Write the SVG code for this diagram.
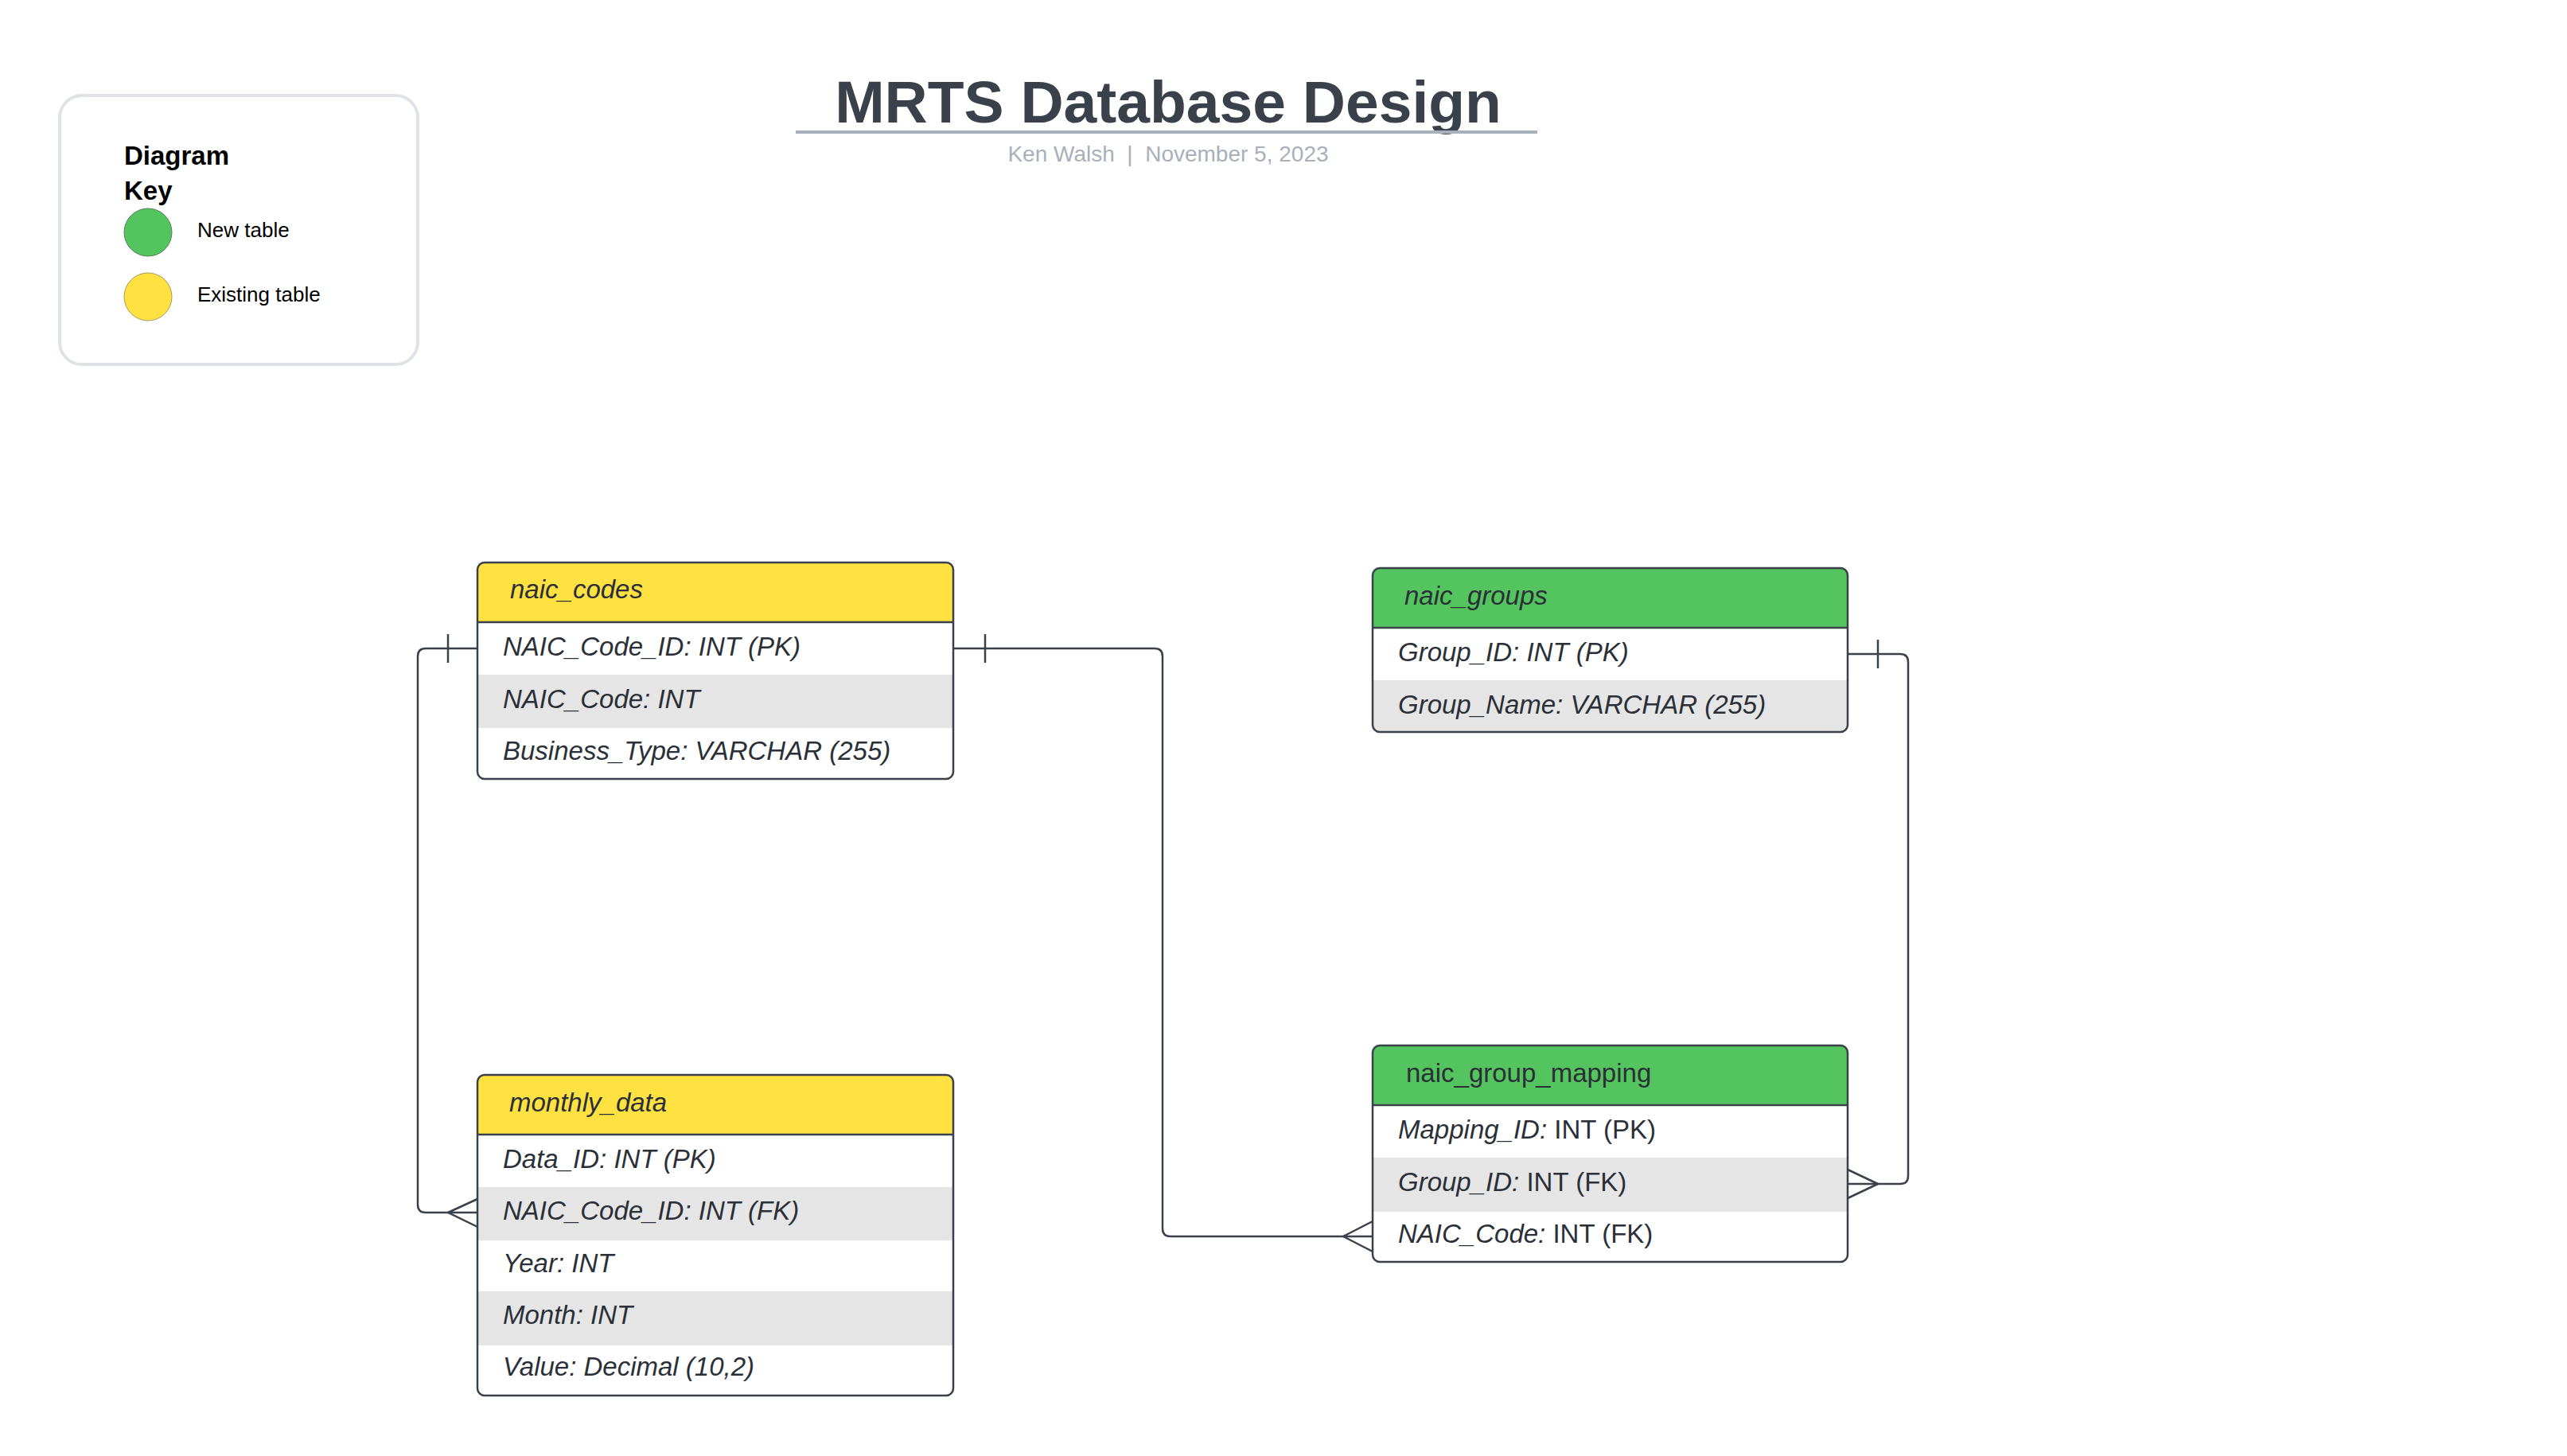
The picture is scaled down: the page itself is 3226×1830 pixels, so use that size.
<svg xmlns="http://www.w3.org/2000/svg" width="3226" height="1830" viewBox="0 0 3226 1830">
<style>
.t{font-family:"Liberation Sans",Arial,sans-serif;fill:#2b3038}
.row{font-size:33px;font-style:italic}
.hd{font-size:33px;font-style:italic}
.up{font-style:normal}
.box{fill:none;stroke:#3a414a;stroke-width:2.5}
.sep{stroke:#3a414a;stroke-width:2.5}
.gray{fill:#e5e5e5}
.yel{fill:#ffe142}
.grn{fill:#54c45e}
.conn path{fill:none;stroke:#3a414a;stroke-width:2.5}
</style>
<defs>
<clipPath id="c1"><rect x="600" y="707" width="598" height="272" rx="9"/></clipPath>
<clipPath id="c2"><rect x="1725" y="714" width="597" height="206" rx="9"/></clipPath>
<clipPath id="c3"><rect x="600" y="1351" width="598" height="403" rx="9"/></clipPath>
<clipPath id="c4"><rect x="1725" y="1314" width="597" height="272" rx="9"/></clipPath>
</defs>
<rect width="3226" height="1830" fill="#ffffff"/>

<g id="legend">
<rect x="75" y="120" width="450" height="338" rx="28" fill="#ffffff" stroke="#dfe3e8" stroke-width="4"/>
<text x="156" y="207" font-family="Liberation Sans,Arial,sans-serif" font-size="33" font-weight="bold" fill="#000">Diagram</text>
<text x="156" y="251" font-family="Liberation Sans,Arial,sans-serif" font-size="33" font-weight="bold" fill="#000">Key</text>
<circle cx="186" cy="292" r="30" fill="#54c45e" stroke="#5a7a5c" stroke-width="1"/>
<text x="248" y="298" font-family="Liberation Sans,Arial,sans-serif" font-size="26" fill="#000">New table</text>
<circle cx="186" cy="373" r="30" fill="#ffe142" stroke="#a89a5c" stroke-width="1"/>
<text x="248" y="379" font-family="Liberation Sans,Arial,sans-serif" font-size="26" fill="#000">Existing table</text>
</g>

<g id="title">
<text x="1468" y="154" text-anchor="middle" font-family="Liberation Sans,Arial,sans-serif" font-size="75" font-weight="bold" fill="#3a414a">MRTS Database Design</text>
<line x1="1000" y1="166" x2="1932" y2="166" stroke="#a8b0b9" stroke-width="4"/>
<text x="1468" y="203" text-anchor="middle" font-family="Liberation Sans,Arial,sans-serif" font-size="28" fill="#a8b0bb" xml:space="preserve">Ken Walsh  |  November 5, 2023</text>
</g>

<g id="connectors" class="conn">
<path d="M600,815 H535 Q525,815 525,825 V1514 Q525,1524 535,1524 H600"/>
<path d="M563,797 V833"/>
<path d="M563,1524 L600,1507 M563,1524 L600,1542"/>
<path d="M1198,815 H1451 Q1461,815 1461,825 V1544 Q1461,1554 1471,1554 H1725"/>
<path d="M1238,797 V833"/>
<path d="M1688,1554 L1725,1535 M1688,1554 L1725,1573"/>
<path d="M2322,822 H2388 Q2398,822 2398,832 V1478 Q2398,1488 2388,1488 H2322"/>
<path d="M2360,804 V840"/>
<path d="M2360,1488 L2322,1470 M2360,1488 L2322,1506"/>
</g>

<g id="naic_codes">
<g clip-path="url(#c1)">
<rect x="600" y="707" width="598" height="272" fill="#fff"/>
<rect class="yel" x="600" y="707" width="598" height="75"/>
<rect class="gray" x="600" y="848" width="598" height="67"/>
</g>
<line class="sep" x1="600" y1="782" x2="1198" y2="782"/>
<rect class="box" x="600" y="707" width="598" height="272" rx="9"/>
<text class="t hd" x="641" y="752">naic_codes</text>
<text class="t row" x="632" y="824">NAIC_Code_ID: INT (PK)</text>
<text class="t row" x="632" y="890">NAIC_Code: INT</text>
<text class="t row" x="632" y="955">Business_Type: VARCHAR (255)</text>
</g>

<g id="naic_groups">
<g clip-path="url(#c2)">
<rect x="1725" y="714" width="597" height="206" fill="#fff"/>
<rect class="grn" x="1725" y="714" width="597" height="75"/>
<rect class="gray" x="1725" y="855" width="597" height="65"/>
</g>
<line class="sep" x1="1725" y1="789" x2="2322" y2="789"/>
<rect class="box" x="1725" y="714" width="597" height="206" rx="9"/>
<text class="t hd" x="1765" y="760">naic_groups</text>
<text class="t row" x="1757" y="831">Group_ID: INT (PK)</text>
<text class="t row" x="1757" y="897">Group_Name: VARCHAR (255)</text>
</g>

<g id="monthly_data">
<g clip-path="url(#c3)">
<rect x="600" y="1351" width="598" height="403" fill="#fff"/>
<rect class="yel" x="600" y="1351" width="598" height="75"/>
<rect class="gray" x="600" y="1492" width="598" height="67"/>
<rect class="gray" x="600" y="1623" width="598" height="68"/>
</g>
<line class="sep" x1="600" y1="1426" x2="1198" y2="1426"/>
<rect class="box" x="600" y="1351" width="598" height="403" rx="9"/>
<text class="t hd" x="640" y="1397">monthly_data</text>
<text class="t row" x="632" y="1468">Data_ID: INT (PK)</text>
<text class="t row" x="632" y="1533">NAIC_Code_ID: INT (FK)</text>
<text class="t row" x="632" y="1599">Year: INT</text>
<text class="t row" x="632" y="1664">Month: INT</text>
<text class="t row" x="632" y="1729">Value: Decimal (10,2)</text>
</g>

<g id="naic_group_mapping">
<g clip-path="url(#c4)">
<rect x="1725" y="1314" width="597" height="272" fill="#fff"/>
<rect class="grn" x="1725" y="1314" width="597" height="75"/>
<rect class="gray" x="1725" y="1455" width="597" height="68"/>
</g>
<line class="sep" x1="1725" y1="1389" x2="2322" y2="1389"/>
<rect class="box" x="1725" y="1314" width="597" height="272" rx="9"/>
<text class="t hd up" x="1767" y="1360">naic_group_mapping</text>
<text class="t row" x="1757" y="1431">Mapping_ID:<tspan class="up"> INT (PK)</tspan></text>
<text class="t row" x="1757" y="1497">Group_ID:<tspan class="up"> INT (FK)</tspan></text>
<text class="t row" x="1757" y="1562">NAIC_Code:<tspan class="up"> INT (FK)</tspan></text>
</g>
</svg>
